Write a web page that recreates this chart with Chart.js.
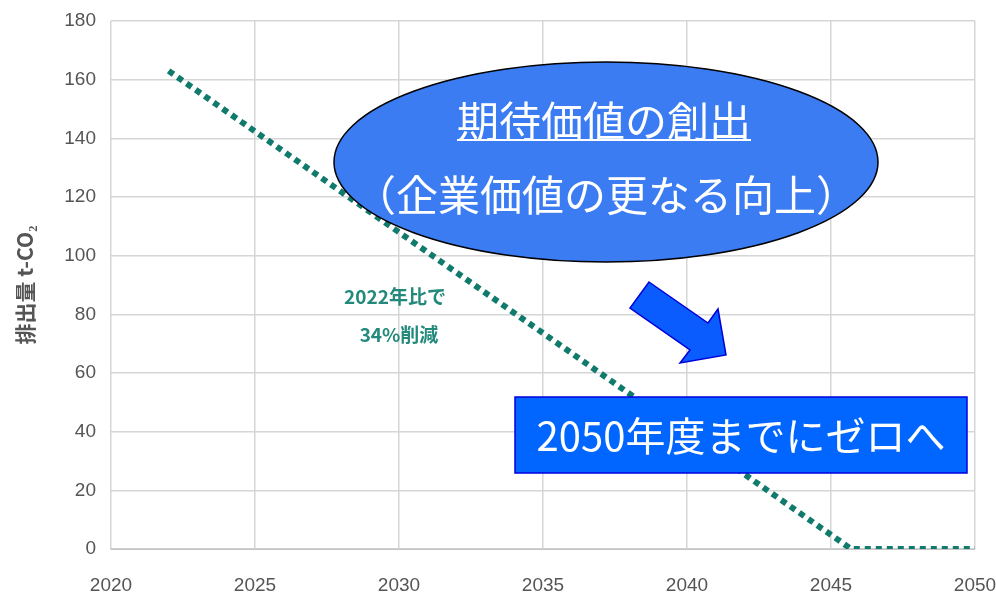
<!DOCTYPE html>
<html>
<head>
<meta charset="utf-8">
<script src="https://cdn.jsdelivr.net/npm/chart.js@4"></script>
<style>
  html, body { margin: 0; padding: 0; background: #fff; }
  #wrap { width: 996px; height: 594px; }
</style>
</head>
<body>
<div id="wrap"><canvas id="myChart"></canvas></div>
<script>
// Dados
const years = [2022, 2045.7, 2050];
const emissions = [163, 0, 0];
const xTickValues = [2020, 2025, 2030, 2035, 2040, 2045, 2050];
const yTickValues = [0, 20, 40, 60, 80, 100, 120, 140, 160, 180];
const yTitle = '排出量 t-CO₂';
const noteLines = ['2022年比で', '34%削減'];
const bubbleLines = ['期待価値の創出', '（企業価値の更なる向上）'];
const boxText = '2050年度までにゼロへ';

const tickFont = { family: "'Liberation Sans Narrow', 'Liberation Sans', sans-serif", size: 19 };

// Desenha as anotações (elipse, seta, caixa) por cima da linha
const overlay = {
    id: 'overlay',
    afterDatasetsDraw(chart) {
        const ctx = chart.ctx;
        ctx.save();

        // texto verde
        ctx.fillStyle = '#23897b';
        ctx.font = "bold 19px 'Noto Sans CJK JP'";
        ctx.textAlign = 'center';
        ctx.textBaseline = 'middle';
        ctx.fillText(noteLines[0], 395, 297);
        ctx.fillText(noteLines[1], 399, 335);

        // elipse
        ctx.beginPath();
        ctx.ellipse(606, 162, 272, 100, 0, 0, Math.PI * 2);
        ctx.fillStyle = '#3b7cf3';
        ctx.fill();
        ctx.lineWidth = 1.5;
        ctx.strokeStyle = '#000';
        ctx.stroke();

        ctx.fillStyle = '#fff';
        ctx.font = "42px 'Noto Sans CJK JP'";
        ctx.fillText(bubbleLines[0], 604, 121);
        const w = ctx.measureText(bubbleLines[0]).width;
        ctx.fillRect(604 - w / 2, 139, w, 2);
        ctx.fillText(bubbleLines[1], 606, 195);

        // seta
        ctx.beginPath();
        ctx.moveTo(649, 282);
        ctx.lineTo(708, 323);
        ctx.lineTo(718, 309);
        ctx.lineTo(726, 355);
        ctx.lineTo(680, 363);
        ctx.lineTo(690, 350);
        ctx.lineTo(630, 308);
        ctx.closePath();
        ctx.fillStyle = '#0a5cff';
        ctx.fill();
        ctx.lineWidth = 1.5;
        ctx.strokeStyle = '#0000d8';
        ctx.stroke();

        // caixa
        ctx.fillStyle = '#0066ff';
        ctx.fillRect(515, 397, 452, 76);
        ctx.strokeStyle = '#0000e0';
        ctx.lineWidth = 1.5;
        ctx.strokeRect(515, 397, 452, 76);
        ctx.fillStyle = '#fff';
        ctx.font = "40px 'Noto Sans CJK JP'";
        ctx.fillText(boxText, 741, 436);

        ctx.restore();
    }
};

const ctx = document.getElementById('myChart').getContext('2d');
const myChart = new Chart(ctx, {
    type: 'line',
    data: {
        datasets: [{
            label: '排出量',
            data: years.map((y, i) => ({ x: y, y: emissions[i] })),
            borderColor: '#107a6d',
            borderWidth: 6,
            borderDash: [6, 5],
            borderCapStyle: 'butt',
            pointRadius: 0,
            tension: 0,
            fill: false
        }]
    },
    options: {
        responsive: true,
        maintainAspectRatio: false,
        animation: false,
        layout: { padding: { left: 0, right: 21, top: 21, bottom: 0 } },
        plugins: { legend: { display: false }, tooltip: { enabled: false } },
        scales: {
            x: {
                type: 'linear',
                min: 2020,
                max: 2050,
                afterBuildTicks: axis => { axis.ticks = xTickValues.map(v => ({ value: v })); },
                afterFit: axis => {
                    axis.height = 45;
                    axis.paddingLeft = 0;
                    axis.paddingRight = 0;
                },
                grid: { color: '#d6d6d6', lineWidth: 1.5, drawTicks: false },
                border: { color: '#d0d0d0', width: 1.5 },
                ticks: {
                    color: '#555',
                    font: tickFont,
                    padding: 25,
                    maxRotation: 0,
                    callback: v => String(v)
                }
            },
            y: {
                min: 0,
                max: 180,
                afterBuildTicks: axis => { axis.ticks = yTickValues.map(v => ({ value: v })); },
                afterFit: axis => {
                    axis.width = 111;
                    axis.paddingTop = 0;
                    axis.paddingBottom = 0;
                },
                grid: {
                    color: c => c.tick && c.tick.value === 0 ? '#b8b8b8' : '#d6d6d6',
                    lineWidth: c => c.tick && c.tick.value === 0 ? 2 : 1.5,
                    drawTicks: false
                },
                border: { display: false },
                ticks: {
                    color: '#555',
                    font: tickFont,
                    padding: 15,
                    callback: v => String(v)
                },
                title: {
                    display: true,
                    text: yTitle,
                    color: '#555',
                    font: { family: "'Noto Sans CJK JP'", size: 21, weight: 'bold' },
                    padding: { top: 12, bottom: 0 }
                }
            }
        }
    },
    plugins: [overlay]
});
</script>
</body>
</html>
